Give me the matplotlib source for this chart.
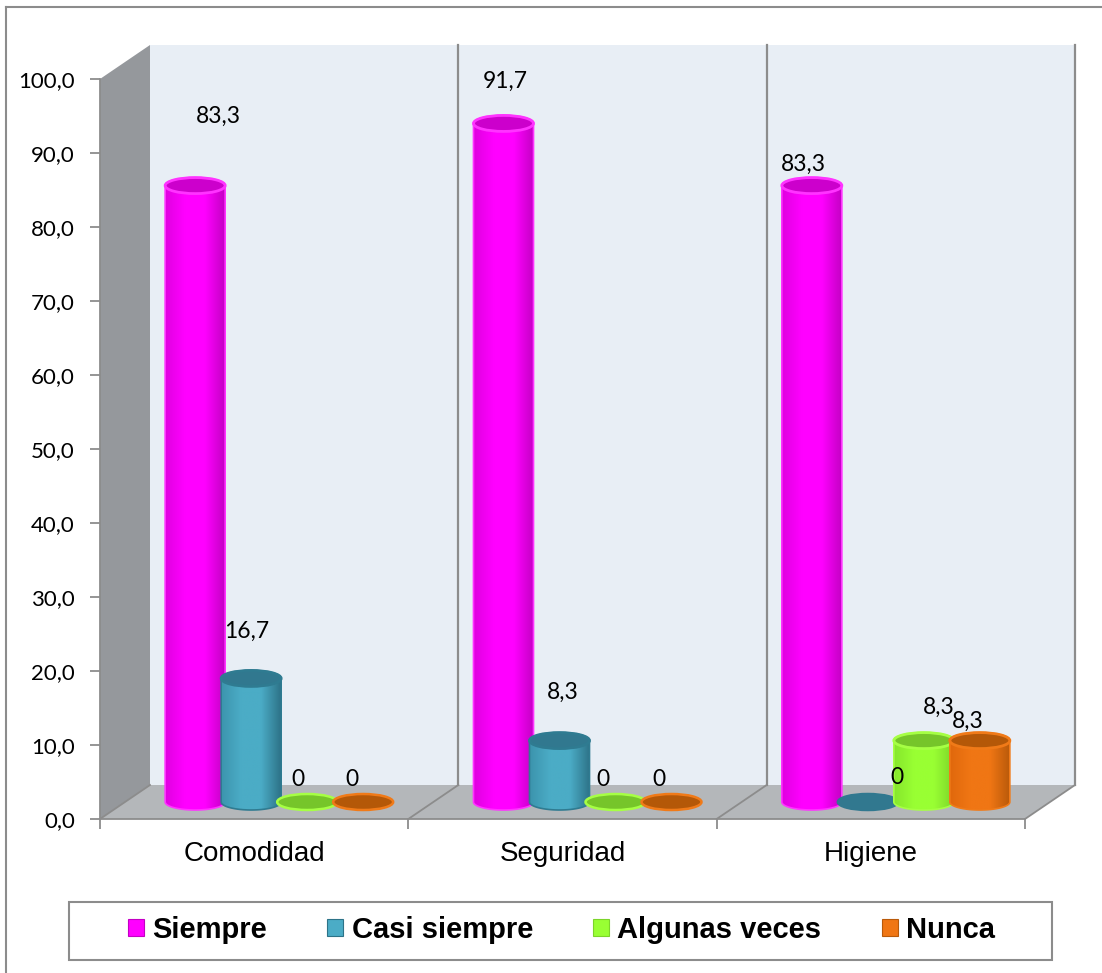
import numpy as np
import matplotlib.pyplot as plt
from matplotlib.patches import Polygon, Ellipse, PathPatch, Patch, Rectangle
from matplotlib.path import Path
from matplotlib.colors import LinearSegmentedColormap
from matplotlib.lines import Line2D

categorias = ['Comodidad', 'Seguridad', 'Higiene']
series = ['Siempre', 'Casi siempre', 'Algunas veces', 'Nunca']
siempre = [83.3, 91.7, 83.3]
casi_siempre = [16.7, 8.3, 0]
algunas_veces = [0, 0, 8.3]
nunca = [0, 0, 8.3]
etiquetas = [['83,3', '91,7', '83,3'],
             ['16,7', '8,3', '0'],
             ['0', '0', '8,3'],
             ['0', '0', '8,3']]
yticks = [0, 10, 20, 30, 40, 50, 60, 70, 80, 90, 100]
valores = [siempre, casi_siempre, algunas_veces, nunca]

# colores: (izquierda, centro, derecha, tapa, borde)
estilos = [
    ('#E000E0', '#FF00FF', '#C400C4', '#CC00CC', '#FF33FF'),
    ('#3C94AD', '#4BACC6', '#2D7388', '#31788F', '#2F7B91'),
    ('#86E62C', '#99FF33', '#7CD42A', '#76C52A', '#A6FF44'),
    ('#E0680C', '#F07614', '#B95A0A', '#B45808', '#F07A18'),
]

# desplazamiento de texto de etiquetas (puntos)
offs = [[(17, 50), (1, 30), (-6, 15)],
        [(-3, 34), (2, 35), (21, 18)],
        [(-7, 16), (-9, 16), (11, 24)],
        [(-8, 16), (-9, 16), (-9, 14)]]

W, H = 1102, 973
fig = plt.figure(figsize=(W / 100, H / 100), dpi=100)
fig.patch.set_facecolor('white')
ax = fig.add_axes([100 / W, (H - 819) / H, 925 / W, 740 / H])
ax.set_xlim(0, 3)
ax.set_ylim(0, 100)
ax.patch.set_visible(False)

px_x = 3 / 925.0
px_y = 100 / 740.0
dx, dy = 50 * px_x, 34 * px_y

gris = '#8C8C8C'
# paredes y piso
ax.add_patch(Polygon([(dx, dy), (3 + dx, dy), (3 + dx, 100 + dy), (dx, 100 + dy)],
                     closed=True, fc='#E8EEF5', ec='none', clip_on=False, zorder=0))
ax.add_patch(Polygon([(0, 0), (dx, dy), (dx, 100 + dy), (0, 100)],
                     closed=True, fc='#95989C', ec='none', clip_on=False, zorder=0))
ax.add_patch(Polygon([(0, 0), (3, 0), (3 + dx, dy), (dx, dy)],
                     closed=True, fc='#B4B7BA', ec='none', clip_on=False, zorder=0))
for k in [1, 2, 3]:
    ax.plot([k + dx, k + dx], [dy, 100 + dy], color=gris, lw=1.6, clip_on=False, zorder=0.5)
    ax.plot([k, k + dx], [0, dy], color=gris, lw=1.3, clip_on=False, zorder=0.5)
ax.plot([0, dx], [0, dy], color=gris, lw=1.3, clip_on=False, zorder=0.5)

# cilindros
w = 30 * px_x
h = 8 * px_y
paso = 56 * px_x
mx, my = 25 * px_x, 17 * px_y
t = np.linspace(np.pi, 2 * np.pi, 40)
z = 1
for s, vals in enumerate(valores):
    izq, cen, der, tapa, borde = estilos[s]
    cmap = LinearSegmentedColormap.from_list('c%d' % s, [izq, cen, cen, der], N=256)
    for c, v in enumerate(vals):
        xc = c + 0.5 + mx + (s - 1.5) * paso
        y0 = my
        y1 = my + v
        z += 1
        if v > 0:
            arco = np.column_stack([xc + w * np.cos(t), y0 + h * np.sin(t)])
            sup = np.column_stack([xc - w * np.cos(t), y1 - h * np.sin(t)])
            verts = np.vstack([[xc - w, y1], arco, [xc + w, y1], sup])
            body = PathPatch(Path(verts), fc='none', ec=borde, lw=1.2, zorder=z + 0.2)
            ax.add_patch(body)
            im = ax.imshow(np.linspace(0, 1, 256)[None, :], cmap=cmap, aspect='auto',
                           extent=[xc - w, xc + w, y0 - h, y1 + h], zorder=z,
                           interpolation='bilinear')
            im.set_clip_path(body)
            ax.add_patch(Ellipse((xc, y1), 2 * w, 2 * h, fc=tapa, ec=borde, lw=2,
                                 zorder=z + 0.3))
        else:
            ax.add_patch(Ellipse((xc, y1), 2 * w, 2 * h, fc=tapa,
                                 ec=borde if s != 1 else tapa, lw=1.8, zorder=z + 0.3))
        ax.annotate(etiquetas[s][c], (xc, y1), xytext=offs[s][c], textcoords='offset points',
                    ha='center', va='center', fontsize=16.5, family='Lato', zorder=50)

ax.set_xlim(0, 3)
ax.set_ylim(0, 100)

# ejes
for sp in ['top', 'right']:
    ax.spines[sp].set_visible(False)
ax.spines['left'].set_color(gris)
ax.spines['bottom'].set_color(gris)
ax.spines['left'].set_linewidth(1.3)
ax.spines['bottom'].set_linewidth(1.3)
ax.spines['left'].set_zorder(0.6)
ax.spines['bottom'].set_zorder(0.6)
ax.set_yticks(yticks)
ax.set_yticklabels(['%d,0' % v for v in yticks], family='Lato', fontsize=16)
ax.tick_params(axis='y', length=7, width=1.3, color=gris, pad=11)
ax.set_xticks([0, 1, 2, 3])
ax.set_xticklabels([])
ax.tick_params(axis='x', which='major', length=7, width=1.3, color=gris)
ax.set_xticks([0.5, 1.5, 2.5], minor=True)
ax.set_xticklabels(categorias, minor=True, family='Liberation Sans', fontsize=20)
ax.tick_params(axis='x', which='minor', length=0, pad=16)

# leyenda
handles = [Patch(fc=e[1], ec=e[2], lw=0.8) for e in estilos]
fig.legend(handles, series, ncol=4, mode='expand', frameon=False, loc='center',
           bbox_to_anchor=(128 / W, 1 - 958 / H, 867 / W, 56 / H), borderaxespad=0,
           borderpad=0, handlelength=0.55, handleheight=0.55, handletextpad=0.28,
           prop={'family': 'Liberation Sans', 'weight': 'bold', 'size': 21})
fig.patches.append(Rectangle((69 / W, 1 - 960 / H), 983 / W, 58 / H, transform=fig.transFigure,
                             fill=False, ec=gris, lw=1.5))

# marco exterior
fig.lines.append(Line2D([6 / W, 1], [1 - 7 / H, 1 - 7 / H], transform=fig.transFigure,
                        color=gris, lw=1.5))
fig.lines.append(Line2D([6 / W, 6 / W], [0, 1 - 7 / H], transform=fig.transFigure,
                        color=gris, lw=1.5))

fig.savefig('out.png', dpi=100)
